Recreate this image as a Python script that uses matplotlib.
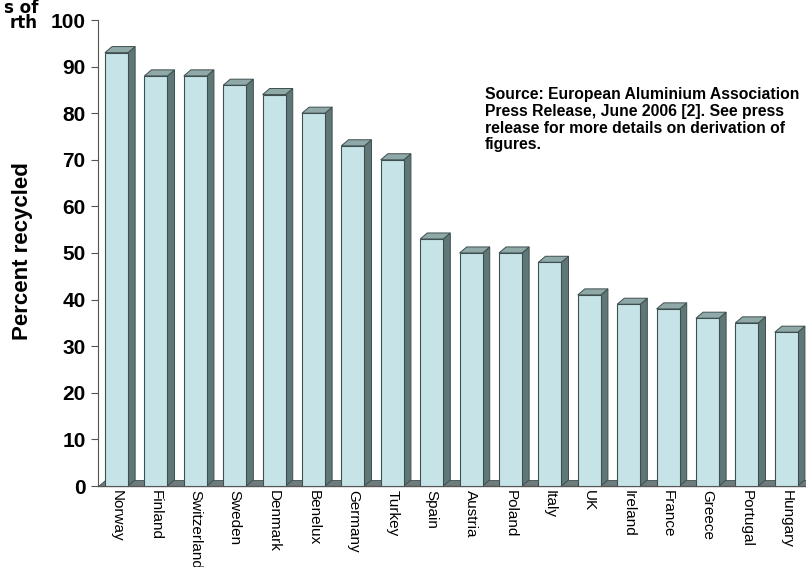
import matplotlib
matplotlib.use("Agg")
import matplotlib.pyplot as plt
from matplotlib.patches import Polygon
import numpy as np

plt.rcParams['font.family'] = ['Liberation Sans', 'DejaVu Sans']

# data
countries = ['Norway', 'Finland', 'Switzerland', 'Sweden', 'Denmark', 'Benelux',
             'Germany', 'Turkey', 'Spain', 'Austria', 'Poland', 'Italy', 'UK',
             'Ireland', 'France', 'Greece', 'Portugal', 'Hungary']
recycled = [93, 88, 88, 86, 84, 80, 73, 70, 53, 50, 50, 48, 41, 39, 38, 36, 35, 33]
y_ticks = [0, 10, 20, 30, 40, 50, 60, 70, 80, 90, 100]
source_text = ("Source: European Aluminium Association\n"
               "Press Release, June 2006 [2]. See press\n"
               "release for more details on derivation of\n"
               "figures.")

W, H = 806, 567
fig = plt.figure(figsize=(W / 100, H / 100), dpi=100)
ax = fig.add_axes([98 / W, (H - 486) / H, 1 - 98 / W, (486 - 20) / H])

front_col = '#c6e4e8'
side_col = '#5f7777'
top_col = '#8fa8a8'
edge_col = '#3f4f4f'

x = np.arange(len(countries))
w = 0.585      # front face width
dx = 0.18      # depth (x)
dy = 1.3       # depth (y)
xmin, xmax = -0.47, 17.5

# floor
floor = Polygon([(xmin, 0), (xmax, 0), (xmax, dy), (xmin + dx, dy)],
                closed=True, facecolor='#6f7c7c', edgecolor=edge_col, lw=0.6, zorder=1)
ax.add_patch(floor)

for xi, v in zip(x, recycled):
    l, r = xi - w / 2, xi + w / 2
    side = Polygon([(r, 0), (r + dx, dy), (r + dx, v + dy), (r, v)],
                   closed=True, facecolor=side_col, edgecolor=edge_col, lw=0.7, zorder=2)
    top = Polygon([(l, v), (r, v), (r + dx, v + dy), (l + dx, v + dy)],
                  closed=True, facecolor=top_col, edgecolor=edge_col, lw=0.7, zorder=2)
    ax.add_patch(side)
    ax.add_patch(top)

ax.bar(x, recycled, width=w, color=front_col, edgecolor=edge_col, linewidth=0.8, zorder=3)

ax.set_xlim(xmin, xmax)
ax.set_ylim(0, 100)
ax.set_yticks(y_ticks)
ax.set_yticklabels([str(t) for t in y_ticks], fontsize=15, fontweight='bold')
ax.set_xticks(x)
ax.set_xticklabels(countries, rotation=270, fontsize=11, va='top', ha='center')
ax.tick_params(axis='y', length=5, width=0.8, color='#555555', pad=4)
ax.tick_params(axis='x', length=0, pad=3)

for s in ['top', 'right']:
    ax.spines[s].set_visible(False)
ax.spines['left'].set_color('#555555')
ax.spines['left'].set_linewidth(0.8)
ax.spines['bottom'].set_color('#555555')
ax.spines['bottom'].set_linewidth(1.0)

fig.text(23 / W, 1 - 251 / H, 'Percent recycled', rotation=90, fontsize=16,
         fontweight='bold', ha='center', va='center')

fig.text(485 / W, 1 - 87 / H, source_text, fontsize=11.3, fontweight='bold',
         ha='left', va='top', linespacing=1.15)

# cropped title fragment at the top left
fig.text(38 / W, 1 + 1 / H, 's of\nrth', fontsize=12, fontweight='heavy',
         family=['DejaVu Sans'], ha='right', va='top', linespacing=0.8)

fig.savefig('out.png', dpi=100)
